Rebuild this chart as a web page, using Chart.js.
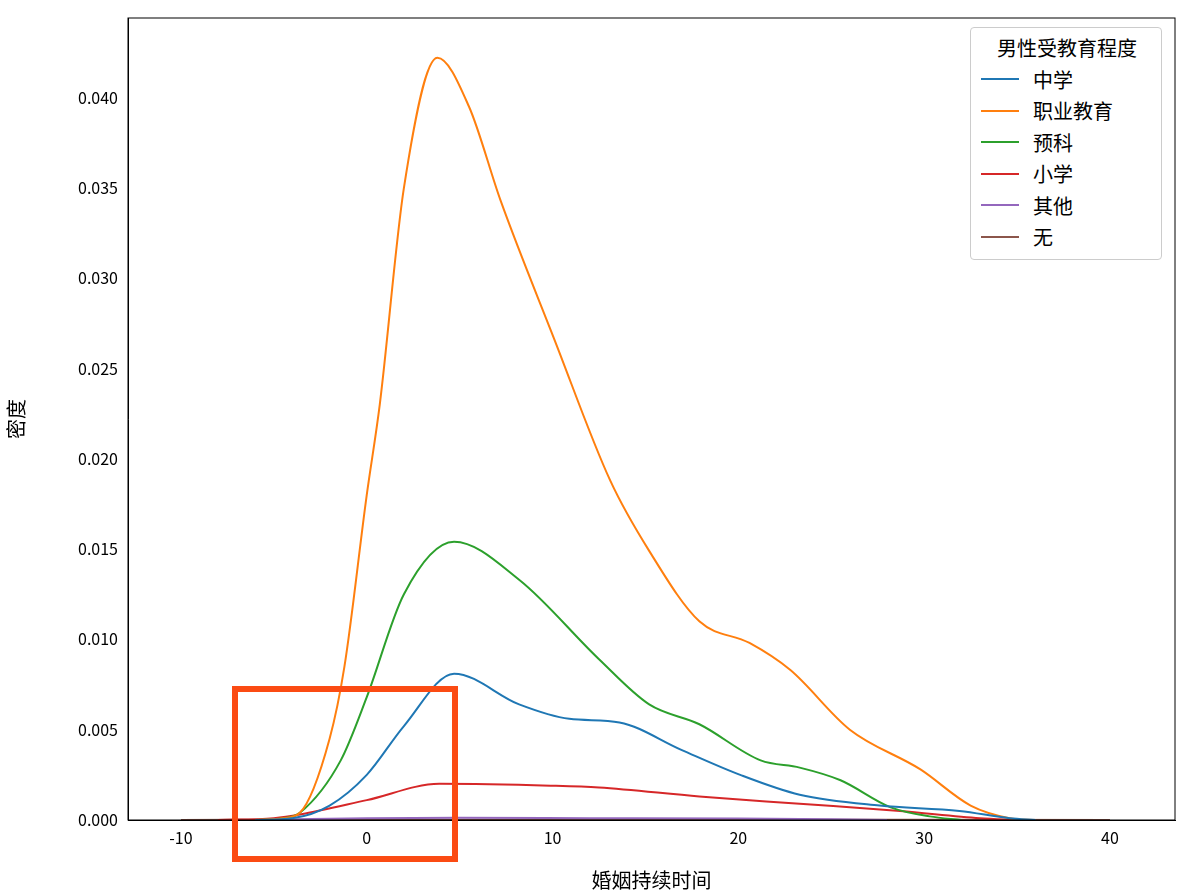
<!DOCTYPE html>
<html lang="zh">
<head>
<meta charset="UTF-8">
<title>婚姻持续时间密度</title>
<script src="https://cdn.jsdelivr.net/npm/chart.js"></script>
<style>
  body { margin: 0; background: #fff; font-family: "Noto Sans CJK SC", "DejaVu Sans", sans-serif; }
  #wrap { position: relative; width: 1194px; height: 896px; }
  #legend { position: absolute; left: 970px; top: 27px; width: 192px; border: 1px solid #ccc; border-radius: 4px;
            background: #fff; padding: 4px 8px 6px 10px; box-sizing: border-box; font-size: 20px; line-height: 31.5px; }
  #legend .title { text-align: center; }
  #legend .row { display: flex; align-items: center; }
  #legend .sw { width: 38px; height: 2px; margin-right: 14px; }
  #box { position: absolute; left: 232px; top: 686px; width: 214px; height: 164px; border: 6px solid #fb4b13; }
</style>
</head>
<body>
<div id="wrap">
  <canvas id="kde" width="1194" height="896"></canvas>
  <div id="legend"></div>
  <div id="box"></div>
</div>
<script>
// 数据
const seriesNames = ['中学', '职业教育', '预科', '小学', '其他', '无'];
const seriesColors = ['#1f77b4', '#ff7f0e', '#2ca02c', '#d62728', '#9467bd', '#8c564b'];

const xMiddle = [-6, -4, -2, 0, 2, 4.7, 8.2, 10.9, 13.6, 16.9, 20.1, 23.3, 27.6, 31.9, 34.6, 36];
const yMiddle = [0, 0.0001, 0.0008, 0.0025, 0.0052, 0.0081, 0.0064, 0.0056, 0.0054, 0.0039, 0.0025, 0.0014, 0.0008, 0.0005, 0.0001, 0];

const xVocational = [-6, -4.5, -3.6, -2, -1.2, 0, 0.7, 2, 3.8, 5.5, 7.2, 10.1, 13.1, 15.2, 17.9, 20.6, 22.8, 26, 29.8, 32.5, 34.6, 36];
const yVocational = [0, 0.0001, 0.0004, 0.0045, 0.0085, 0.018, 0.023, 0.035, 0.0422, 0.0395, 0.0343, 0.0266, 0.0188, 0.0149, 0.011, 0.0098, 0.0083, 0.005, 0.0028, 0.0008, 0.0001, 0];

const xPrep = [-6, -4.5, -3.6, -1.4, 0, 2, 4.7, 8.2, 12.5, 15.2, 17.9, 21.2, 23.3, 25.5, 28.2, 30.3, 32];
const yPrep = [0, 0.0001, 0.0004, 0.0033, 0.0068, 0.0125, 0.0154, 0.0133, 0.0089, 0.0064, 0.0053, 0.0033, 0.0029, 0.0022, 0.0007, 0.0002, 0];

const xPrimary = [-8, -5, -3.6, 0, 3.9, 9.9, 12.5, 17.9, 23.3, 28.7, 33, 35];
const yPrimary = [0, 0.0001, 0.0003, 0.0011, 0.002, 0.0019, 0.0018, 0.0013, 0.0009, 0.0005, 0.0001, 0];

const xOther = [-6, -3, 0, 5, 12, 20, 25, 28];
const yOther = [0, 0.00005, 0.0001, 0.00012, 0.0001, 0.00008, 0.00004, 0];

const xNone = [-10, 0, 10, 20, 30, 40];
const yNone = [0, 0.00002, 0.00002, 0.00001, 0.00001, 0];

const xs = [xMiddle, xVocational, xPrep, xPrimary, xOther, xNone];
const ys = [yMiddle, yVocational, yPrep, yPrimary, yOther, yNone];

const xTicks = [-10, 0, 10, 20, 30, 40];

const datasets = seriesNames.map((name, i) => ({
    label: name,
    data: xs[i].map((x, j) => ({ x: x, y: ys[i][j] })),
    borderColor: seriesColors[i],
    borderWidth: 2,
    pointRadius: 0,
    tension: 0.4,
    cubicInterpolationMode: 'monotone',
    showLine: true,
    fill: false
}));

// 图例（HTML）
const legend = document.getElementById('legend');
legend.innerHTML = '<div class="title">男性受教育程度</div>' + seriesNames.map((n, i) =>
    `<div class="row"><span class="sw" style="background:${seriesColors[i]}"></span>${n}</div>`).join('');

// 坐标框
const frame = {
    id: 'frame',
    afterDraw(chart) {
        const a = chart.chartArea, c = chart.ctx;
        c.save(); c.strokeStyle = '#000'; c.lineWidth = 1;
        c.strokeRect(a.left, a.top, a.right - a.left, a.bottom - a.top);
        c.restore();
    }
};

const font = { family: '"Noto Sans CJK SC", "DejaVu Sans", sans-serif', size: 16 };

new Chart(document.getElementById('kde'), {
    type: 'scatter',
    data: { datasets },
    options: {
        responsive: false,
        animation: false,
        layout: { padding: { top: 18, right: 19, left: 0, bottom: 0 } },
        plugins: { legend: { display: false }, tooltip: { enabled: false } },
        scales: {
            x: {
                type: 'linear', min: -12.85, max: 43.5,
                afterBuildTicks: s => { s.ticks = xTicks.map(v => ({ value: v })); },
                afterFit: s => { s.height = 76; },
                grid: { display: false, drawTicks: true, tickLength: 6, tickColor: '#000' },
                border: { color: '#000' },
                ticks: { color: '#000', font: font, padding: 2, maxRotation: 0 },
                title: { display: true, text: '婚姻持续时间', color: '#000', font: { ...font, size: 20 }, padding: { top: 0 } }
            },
            y: {
                min: 0, max: 0.0444,
                afterBuildTicks: s => { s.ticks = [0, 0.005, 0.01, 0.015, 0.02, 0.025, 0.03, 0.035, 0.04].map(v => ({ value: v })); },
                afterFit: s => { s.width = 128; },
                grid: { display: false, drawTicks: true, tickLength: 6, tickColor: '#000' },
                border: { color: '#000' },
                ticks: { color: '#000', font: font, padding: 4, callback: v => v.toFixed(3) },
                title: { display: true, text: '密度', color: '#000', font: { ...font, size: 20 } }
            }
        }
    },
    plugins: [frame]
});
</script>
</body>
</html>
